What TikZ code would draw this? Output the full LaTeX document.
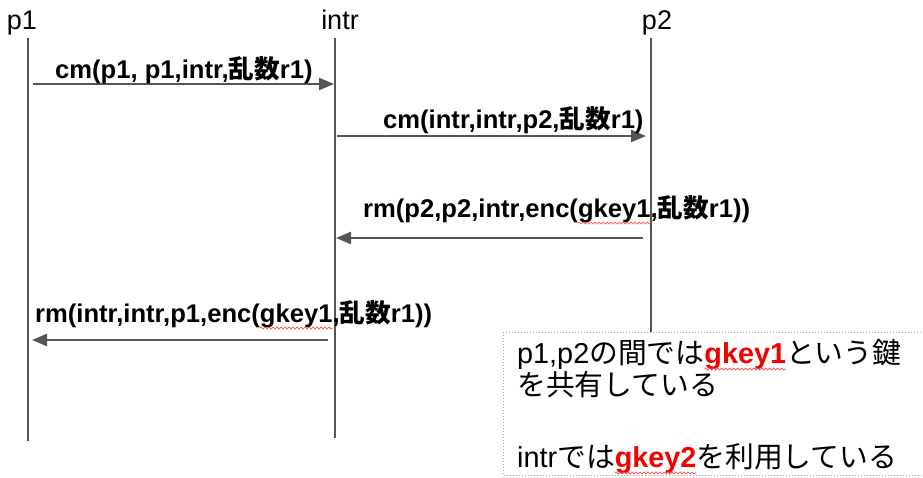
\documentclass[tikz,border=0pt]{standalone}
\usepackage{fontspec}
\setmainfont{Liberation Sans}
\newfontfamily\jp{Noto Sans CJK JP}
\usetikzlibrary{arrows.meta,decorations.pathmorphing}

\definecolor{linegray}{HTML}{555555}
\definecolor{dotgray}{HTML}{A0A0A0}
\definecolor{keyred}{HTML}{F20000}

\newlength\spellw
% japanese text and the red wavy mark under a word
\newcommand{\ja}[1]{{\jp #1}}
\newcommand{\spellmark}[1]{\settowidth\spellw{#1}#1\tikz[baseline=0pt,overlay]\draw[spellline] (-\spellw,-6pt) -- (0pt,-6pt);}

\tikzset{
  actor/.style={font=\fontsize{27}{30}\selectfont, anchor=base, inner sep=0pt},
  lifeline/.style={draw=linegray, line width=2.3pt},
  msg/.style={draw=linegray, line width=2.3pt, -{Triangle[length=15pt,width=12pt]}},
  msglabel/.style={font=\bfseries\fontsize{25.6}{30}\selectfont, anchor=base west, inner sep=0pt},
  notetext/.style={font=\fontsize{28.8}{32}\selectfont, anchor=base west, inner sep=0pt},
  notebox/.style={draw=dotgray, fill=white, line width=1pt, dash pattern=on 1pt off 2pt},
  spellline/.style={draw=red!70, line width=0.7pt, decorate, decoration={snake, amplitude=1pt, segment length=4pt}},
}

\begin{document}
\begin{tikzpicture}[x=1pt, y=-1pt]
    \useasboundingbox (0,0) rectangle (923,477);

    % actors
    \node[actor] (p1) at (22,29) {p1};
    \node[actor] (intr) at (340,29) {intr};
    \node[actor] (p2) at (657,29) {p2};

    % lifelines
    \coordinate (p1 top) at (28,38);
    \coordinate (p1 end) at (28,441);
    \coordinate (intr top) at (335,38);
    \coordinate (intr end) at (335,438);
    \coordinate (p2 top) at (651,38);
    \coordinate (p2 end) at (651,332);
    \draw[lifeline] (p1 top) -- (p1 end);
    \draw[lifeline] (intr top) -- (intr end);
    \draw[lifeline] (p2 top) -- (p2 end);

    % messages
    \coordinate (m1 from) at (33,84);
    \coordinate (m1 to) at (334,84);
    \coordinate (m2 from) at (337,136);
    \coordinate (m2 to) at (646,136);
    \coordinate (m3 from) at (643,238);
    \coordinate (m3 to) at (336,238);
    \coordinate (m4 from) at (328,340);
    \coordinate (m4 to) at (32,340);
    \draw[msg] (m1 from) -- (m1 to);
    \draw[msg] (m2 from) -- (m2 to);
    \draw[msg] (m3 from) -- (m3 to);
    \draw[msg] (m4 from) -- (m4 to);

    \node[msglabel] (cm1) at (55,78) {cm(p1, p1,intr,\ja{乱数}r1)};
    \node[msglabel] (cm2) at (383,128) {cm(intr,intr,p2,\ja{乱数}r1)};
    \node[msglabel] (rm1) at (363,217) {rm(p2,p2,intr,enc(\spellmark{gkey1},\ja{乱数}r1))};
    \node[msglabel] (rm2) at (35,322) {rm(intr,intr,p1,enc(\spellmark{gkey1},\ja{乱数}r1))};

    % note
    \coordinate (note nw) at (503,332);
    \coordinate (note se) at (935,475);
    \draw[notebox] (note nw) rectangle (note se);
    \node[notetext] (note1) at (517,363) {p1,p2\ja{の間では}\textcolor{keyred}{\bfseries\spellmark{gkey1}}\ja{という鍵}};
    \node[notetext] (note2) at (517,395) {\ja{を共有している}};
    \node[notetext] (note3) at (517,467) {intr\ja{では}\textcolor{keyred}{\bfseries\spellmark{gkey2}}\ja{を利用している}};
\end{tikzpicture}
\end{document}
